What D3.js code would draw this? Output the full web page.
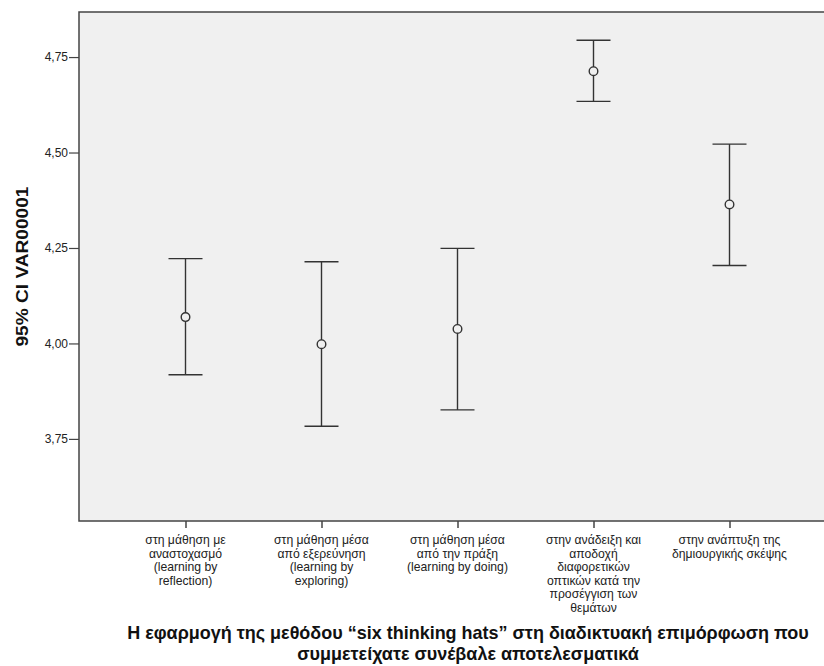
<!DOCTYPE html>
<html><head><meta charset="utf-8">
<script src="https://cdn.jsdelivr.net/npm/d3@7"></script>
<style>body{margin:0;background:#fff}svg{display:block}</style>
</head><body>
<svg id="c" width="824" height="666"></svg>
<script>
const categories = [
  ["στη μάθηση με","αναστοχασμό","(learning by","reflection)"],
  ["στη μάθηση μέσα","από εξερεύνηση","(learning by","exploring)"],
  ["στη μάθηση μέσα","από την πράξη","(learning by doing)"],
  ["στην ανάδειξη και","αποδοχή","διαφορετικών","οπτικών κατά την","προσέγγιση των","θεμάτων"],
  ["στην ανάπτυξη της","δημιουργικής σκέψης"]
];
const means = [4.069, 3.998, 4.038, 4.713, 4.364];
const lower = [3.918, 3.783, 3.826, 4.634, 4.204];
const upper = [4.222, 4.214, 4.249, 4.794, 4.522];
const yTicks = [3.75, 4.00, 4.25, 4.50, 4.75];
const yTitle = "95% CI VAR00001";
const xTitle = ["Η εφαρμογή της μεθόδου “six thinking hats” στη διαδικτυακή επιμόρφωση που","συμμετείχατε συνέβαλε αποτελεσματικά"];

const svg = d3.select("#c");
const L = 79, T = 12, B = 521, R = 870;
const ids = categories.map((c,i)=>i);
const x = d3.scalePoint().domain(ids).range([185.5, 729.5]);
const y = d3.scaleLinear().domain([3.535, 4.868]).range([B, T]);
const ink = "#333";
const FF = "'Liberation Sans', Arial, sans-serif";

svg.append("rect").attr("x",L).attr("y",T).attr("width",R-L).attr("height",B-T)
  .attr("fill","#f0f0f0").attr("stroke","#444").attr("stroke-width",1.5);

// Y axis
const fmt = v => d3.format(".2f")(v).replace(".", ",");
const yAx = svg.append("g").attr("transform",`translate(${L},0)`)
  .call(d3.axisLeft(y).tickValues(yTicks).tickFormat(fmt).tickSize(10).tickPadding(1));
yAx.select(".domain").remove();
yAx.selectAll(".tick line").attr("stroke","#444").attr("stroke-width",1.2);
yAx.selectAll(".tick text").attr("fill","#222").style("font-family",FF).style("font-size","12px");

// X axis
const xAx = svg.append("g").attr("transform",`translate(0,${B})`)
  .call(d3.axisBottom(x).tickSize(7).tickFormat(""));
xAx.select(".domain").remove();
xAx.selectAll(".tick line").attr("stroke","#444").attr("stroke-width",1.5);

// category labels
const lab = svg.append("g").style("font-family",FF).style("font-size","12.2px").attr("fill","#222");
categories.forEach((lines,i)=>{
  const t = lab.append("text").attr("text-anchor","middle").attr("x",x(i)).attr("y",544);
  lines.forEach((ln,j)=>t.append("tspan").attr("x",x(i)).attr("dy", j===0?0:13.5).text(ln));
});

// error bars
const g = svg.append("g").attr("stroke",ink).attr("fill","none");
ids.forEach(i=>{
  const cx = x(i);
  g.append("line").attr("x1",cx).attr("x2",cx).attr("y1",y(upper[i])).attr("y2",y(lower[i])).attr("stroke-width",1.4);
  g.append("line").attr("x1",cx-17).attr("x2",cx+17).attr("y1",y(upper[i])).attr("y2",y(upper[i])).attr("stroke-width",1.4);
  g.append("line").attr("x1",cx-17).attr("x2",cx+17).attr("y1",y(lower[i])).attr("y2",y(lower[i])).attr("stroke-width",1.4);
  g.append("circle").attr("cx",cx).attr("cy",y(means[i])).attr("r",4.3).attr("stroke-width",1.4).attr("fill","#f0f0f0");
});

// Y title
svg.append("text").attr("transform",`translate(28,${(T+B)/2}) rotate(-90)`)
  .attr("text-anchor","middle").style("font-family",FF)
  .style("font-weight","bold").style("font-size","16px").attr("fill","#111")
  .attr("textLength",160).attr("lengthAdjust","spacingAndGlyphs").text(yTitle);

// X title
const xt = svg.append("text").attr("text-anchor","middle").style("font-family",FF)
  .style("font-weight","bold").style("font-size","16px").attr("fill","#111");
const t1 = xt.append("tspan").attr("x",468).attr("y",639).text(xTitle[0]);
const w = t1.node().getComputedTextLength();
const fs = 16 * 682 / w;
xt.style("font-size", fs + "px");
xt.append("tspan").attr("x",468).attr("y",639 + fs*1.15).text(xTitle[1]);
</script>
</body></html>
